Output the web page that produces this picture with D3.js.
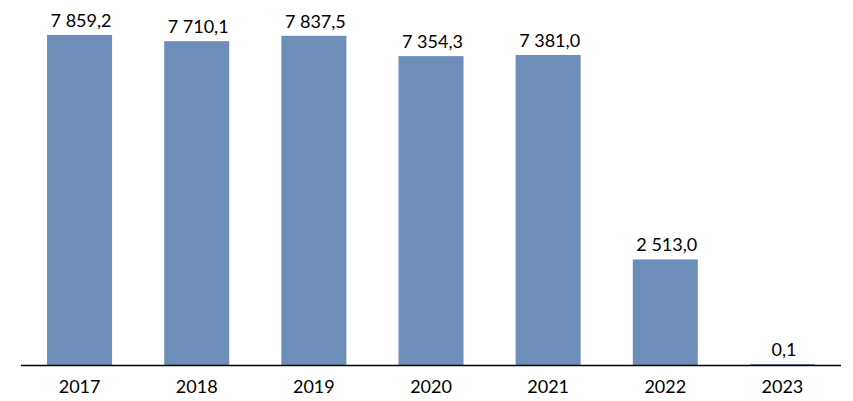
<!DOCTYPE html>
<html><head><meta charset="utf-8">
<script src="https://cdn.jsdelivr.net/npm/d3@7"></script>
<style>body{margin:0;background:#fff}svg{display:block}</style>
</head><body><svg id="c" width="853" height="401"></svg>
<script>
const categories = ["2017","2018","2019","2020","2021","2022","2023"];
const values = [7859.2, 7710.1, 7837.5, 7354.3, 7381.0, 2513.0, 0.1];

const svg = d3.select("#c");
const x = d3.scaleBand().domain(categories).range([21, 841]).paddingInner(0.445).paddingOuter(0.2225);
const y = d3.scaleLinear().domain([0, 8000]).range([365, 29]);
const loc = d3.formatLocale({decimal: ",", thousands: " ", grouping: [3], currency: ["", ""]});
const fmt = loc.format(",.1f");
const font = "Lato, 'Open Sans', sans-serif";

svg.selectAll("rect.bar").data(values).join("rect")
  .attr("class","bar")
  .attr("x",(d,i)=>x(categories[i]))
  .attr("width",x.bandwidth())
  .attr("y",d=>Math.min(y(d), 364))
  .attr("height",d=>Math.max(365-y(d),1))
  .attr("fill","#6d8eb9");

svg.selectAll("text.val").data(values).join("text")
  .attr("class","val")
  .attr("x",(d,i)=>x(categories[i])+x.bandwidth()/2+1.5)
  .attr("y",d=>Math.min(y(d),364)-8)
  .attr("text-anchor","middle")
  .attr("xml:space","preserve")
  .attr("font-family",font).attr("font-size",18).attr("fill","#000")
  .text(d=>fmt(d));

const ax = svg.append("g").attr("transform","translate(0,365)")
  .call(d3.axisBottom(x).tickSize(0).tickPadding(0));
ax.select(".domain").attr("stroke","#000").attr("stroke-width",1.3).attr("d","M21,0.5H841");
ax.selectAll("text").attr("font-family",font).attr("font-size",18).attr("fill","#000").attr("dy","1.55em");
</script></body></html>
